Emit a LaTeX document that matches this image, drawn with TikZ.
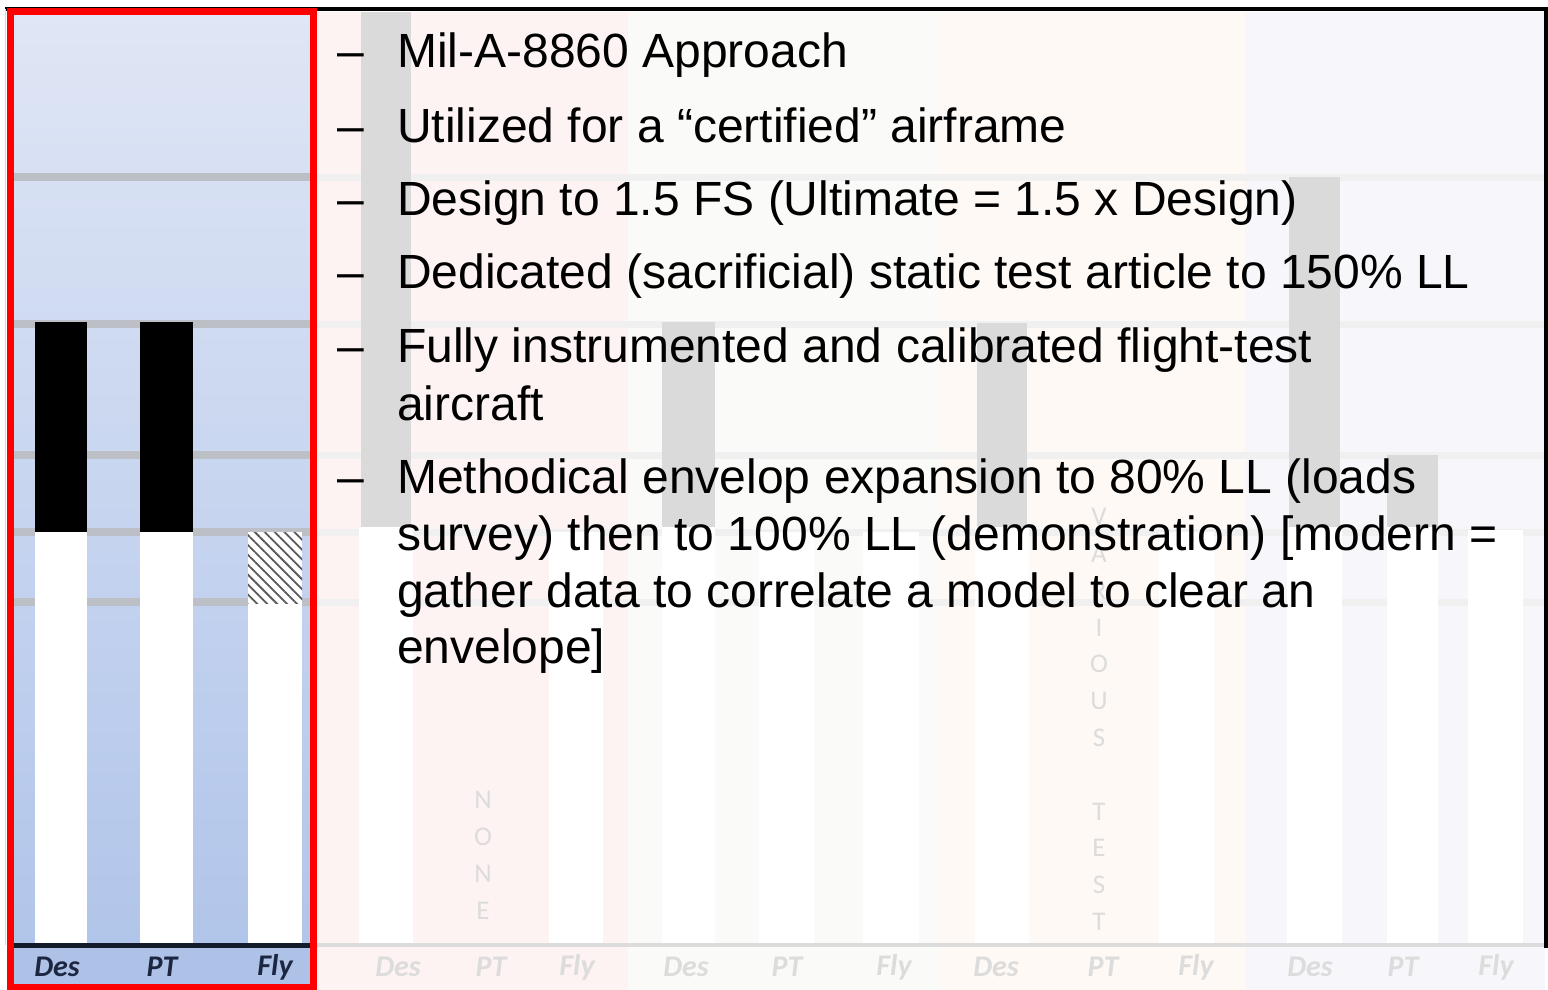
\documentclass[tikz,border=0pt]{standalone}
\usepackage{fontspec}
\setmainfont{Liberation Sans}
\newfontfamily\lblfont{Carlito}
\usetikzlibrary{patterns.meta}

\definecolor{panelTop}{HTML}{DFE6F5}
\definecolor{panelBot}{HTML}{B1C5EA}
\definecolor{bandBlue}{HTML}{AEC2E8}
\definecolor{gridGray}{HTML}{BCC0C6}
\definecolor{navy}{HTML}{1C2640}
\definecolor{tintA}{HTML}{FEF3F3}
\definecolor{tintB}{HTML}{FAFBF8}
\definecolor{tintC}{HTML}{FFF9F5}
\definecolor{tintD}{HTML}{F7F7FB}
\definecolor{fadeBar}{HTML}{DADADA}
\definecolor{fadeGrid}{HTML}{F0F0F0}
\definecolor{fadeText}{HTML}{DCDCDC}

\tikzset{
  bullet/.style={anchor=base west, inner sep=0pt, font=\fontsize{48}{57}\selectfont},
  barlabel/.style={inner sep=0pt, font=\lblfont\bfseries\itshape\fontsize{30}{32}\selectfont, text=navy},
  fadelabel/.style={barlabel, text=fadeText},
  vletter/.style={inner sep=0pt, font=\lblfont\fontsize{27}{30}\selectfont, text=fadeText},
  fadebar/.style={fill=fadeBar},
  whitebar/.style={fill=white},
}

\begin{document}
\begin{tikzpicture}[x=1pt,y=-1pt]
\useasboundingbox (0,0) rectangle (1548,990);
\fill[white] (0,0) rectangle (1548,990);

% faded chart groups behind the text
\fill[tintA] (315,12) rectangle (628,990);
\fill[tintB] (628,12) rectangle (940,990);
\fill[tintC] (940,12) rectangle (1245,990);
\fill[tintD] (1245,12) rectangle (1545,990);
\foreach \gy in {177,324,455,532,602}
  \draw[fadeGrid, line width=7] (315,\gy) -- (1545,\gy);

% faded load bars
\fill[fadebar] (361,12) rectangle (411,527);
\fill[fadebar] (662,322) rectangle (715,527);
\fill[fadebar] (977,323) rectangle (1027,527);
\fill[fadebar] (1289,177) rectangle (1340,527);
\fill[fadebar] (1387,455) rectangle (1438,527);
\fill[whitebar] (359,527) rectangle (413,945);
\fill[whitebar] (549,532) rectangle (603,945);
\fill[whitebar] (662,527) rectangle (715,945);
\fill[whitebar] (759,532) rectangle (814,945);
\fill[whitebar] (863,532) rectangle (919,945);
\fill[whitebar] (975,527) rectangle (1029,945);
\fill[whitebar] (1159,532) rectangle (1214,945);
\fill[whitebar] (1287,527) rectangle (1342,945);
\fill[whitebar] (1387,527) rectangle (1438,945);
\fill[whitebar] (1468,530) rectangle (1523,945);
\draw[fadeText, line width=4] (315,945) -- (1545,945);

% vertical captions
\foreach \ch [count=\i from 0] in {N,O,N,E}
  \node[vletter] (none\i) at (483,{800+36.8*\i}) {\ch};
\foreach \ch [count=\i from 0] in {V,A,R,I,O,U,S}
  \node[vletter] (var\i) at (1099,{517+36.8*\i}) {\ch};
\foreach \ch [count=\i from 0] in {T,E,S,T}
  \node[vletter] (tst\i) at (1099,{811.4+36.8*\i}) {\ch};

% faded axis labels
\node[fadelabel] (g2d) at (398,967) {Des};
\node[fadelabel] (g2p) at (491,967) {PT};
\node[fadelabel] (g2f) at (577,967) {Fly};
\node[fadelabel] (g3d) at (686,967) {Des};
\node[fadelabel] (g3p) at (787,967) {PT};
\node[fadelabel] (g3f) at (894,967) {Fly};
\node[fadelabel] (g4d) at (996,967) {Des};
\node[fadelabel] (g4p) at (1103,967) {PT};
\node[fadelabel] (g4f) at (1196,967) {Fly};
\node[fadelabel] (g5d) at (1310,967) {Des};
\node[fadelabel] (g5p) at (1403,967) {PT};
\node[fadelabel] (g5f) at (1496,967) {Fly};

% outer frame
\draw[black, line width=3.5] (5,9) -- (1546,9) -- (1546,948);
\draw[gridGray!60, line width=1] (5,9) -- (5,945);

% highlighted panel
\shade[top color=panelTop, bottom color=panelBot] (12,14) rectangle (312,945);
\fill[bandBlue] (12,945) rectangle (312,990);
\foreach \gy in {177,324,455,532,602}
  \draw[gridGray, line width=8] (12,\gy) -- (312,\gy);

\fill[black] (35,322) rectangle (87,532);
\fill[white] (35,532) rectangle (87,945);
\fill[black] (140,322) rectangle (193,532);
\fill[white] (140,532) rectangle (193,945);
\fill[white] (248,532) rectangle (302,945);
\fill[pattern={Lines[angle=-45,distance=7pt,line width=1.8pt]}, pattern color=gray!70!black]
  (248,532) rectangle (302,603);

\draw[navy!70!black, line width=5] (12,945) -- (312,945);
\node[barlabel] (des) at (57,967) {Des};
\node[barlabel] (pt) at (162,967) {PT};
\node[barlabel] (fly) at (275,967) {Fly};

\draw[red, line width=7] (10.5,11.5) rectangle (313.5,987);

% bullet list
\foreach \by [count=\k] in {68,142,215,288,362,493}
  \node[bullet] (dash\k) at (337,\by) {\textendash};
\node[bullet] (l1) at (397,68) {Mil-A-8860 Approach};
\node[bullet] (l2) at (397,142) {Utilized for a “certified” airframe};
\node[bullet] (l3) at (397,215) {Design to 1.5 FS (Ultimate = 1.5 x Design)};
\node[bullet] (l4) at (397,288) {Dedicated (sacrificial) static test article to 150\% LL};
\node[bullet] (l5) at (397,362) {Fully instrumented and calibrated flight-test};
\node[bullet] (l5b) at (397,420) {aircraft};
\node[bullet] (l6) at (397,493) {Methodical envelop expansion to 80\% LL (loads};
\node[bullet] (l6b) at (397,550) {survey) then to 100\% LL (demonstration) [modern =};
\node[bullet] (l6c) at (397,607) {gather data to correlate a model to clear an};
\node[bullet] (l6d) at (397,663) {envelope]};
\end{tikzpicture}
\end{document}
